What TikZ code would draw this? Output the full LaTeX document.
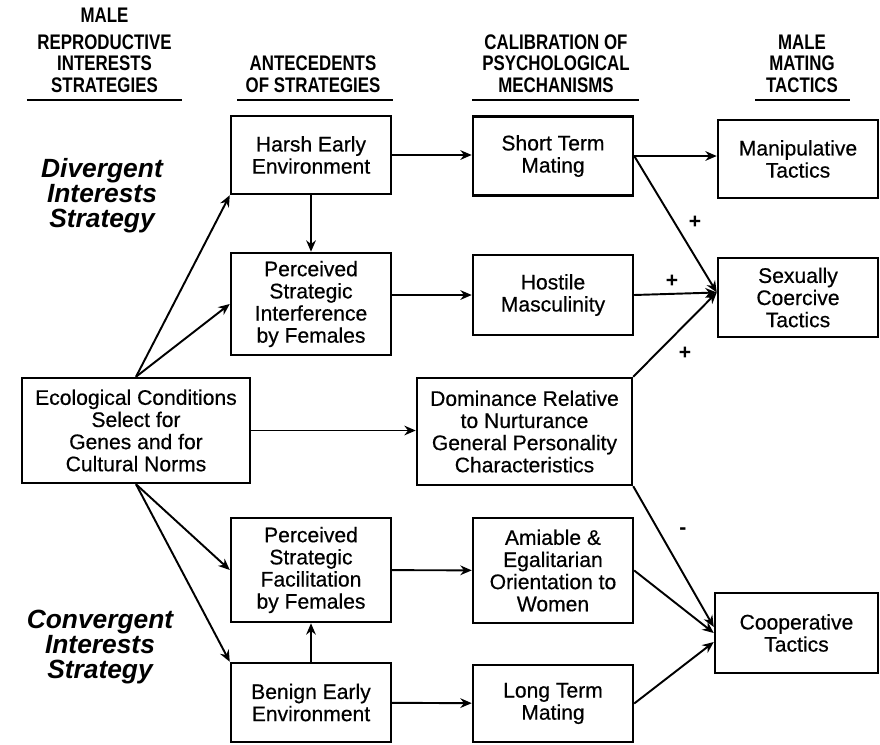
\documentclass[tikz,border=0pt]{standalone}
\usepackage{fontspec}
\setmainfont{Liberation Sans}
\newfontfamily\hdrfont{Liberation Sans}[FakeStretch=0.8]
\newfontfamily\boxfont{Liberation Sans}[FakeBold=0.5]
\usetikzlibrary{arrows.meta}
\begin{document}
\begin{tikzpicture}[
    box/.style={draw, line width=1.4pt, align=center, inner sep=2pt, minimum width=3.2cm, font=\boxfont\fontsize{12}{12.6}\selectfont},
    hdr/.style={align=center, inner sep=0pt, anchor=south, font=\hdrfont\bfseries\fontsize{12}{12.3}\selectfont},
    strat/.style={align=center, font=\bfseries\itshape\fontsize{15}{14.3}\selectfont},
    sgn/.style={inner sep=0pt, font=\bfseries\fontsize{12}{12}\selectfont},
    arr/.style={-{Stealth[length=6.5pt,width=5.5pt]}, line width=1.1pt}]
    \useasboundingbox (0,0) rectangle (17.6,14.88);
    % column headings
    \node[hdr] (h1) at (2.09,13.02) {MALE\\[3pt]REPRODUCTIVE\\INTERESTS\\STRATEGIES};
    \node[hdr] (h2) at (6.26,13.02) {ANTECEDENTS\\OF STRATEGIES};
    \node[hdr] (h3) at (11.12,13.02) {CALIBRATION OF\\PSYCHOLOGICAL\\MECHANISMS};
    \node[hdr] (h4) at (16.04,13.02) {MALE\\MATING\\TACTICS};
    \foreach \a/\b in {0.54/3.64, 4.74/7.86, 9.44/12.78, 15.1/17.0}
        \draw[line width=1.5pt] (\a,12.88) -- (\b,12.88);
    \node[strat] (div) at (2.04,10.96) {Divergent\\Interests\\Strategy};
    \node[strat] (conv) at (2.0,1.94) {Convergent\\Interests\\Strategy};
    % boxes
    \node[box, minimum width=4.56cm, minimum height=2.1cm] (ecol) at (2.72,6.27) {Ecological Conditions\\Select for\\Genes and for\\Cultural Norms};
    \node[box, minimum height=1.56cm] (harsh) at (6.22,11.78) {Harsh Early\\Environment};
    \node[box, minimum height=2.04cm] (interf) at (6.22,8.80) {Perceived\\Strategic\\Interference\\by Females};
    \node[box, minimum height=2.08cm] (facil) at (6.22,3.48) {Perceived\\Strategic\\Facilitation\\by Females};
    \node[box, minimum height=1.58cm] (benign) at (6.22,0.83) {Benign Early\\Environment};
    \node[box, minimum height=1.58cm] (short) at (11.06,11.76) {Short Term\\Mating};
    \node[box, minimum height=1.6cm] (hostile) at (11.06,8.98) {Hostile\\Masculinity};
    \node[box, minimum width=4.3cm, minimum height=2.14cm] (dom) at (10.49,6.25) {Dominance Relative\\to Nurturance\\General Personality\\Characteristics};
    \node[box, minimum height=2.1cm] (amiable) at (11.06,3.47) {Amiable \&\\Egalitarian\\Orientation to\\Women};
    \node[box, minimum height=1.54cm] (long) at (11.06,0.81) {Long Term\\Mating};
    \node[box, minimum height=1.56cm] (manip) at (15.96,11.70) {Manipulative\\Tactics};
    \node[box, minimum height=1.58cm] (coerc) at (15.96,8.93) {Sexually\\Coercive\\Tactics};
    \node[box, minimum width=3.26cm, minimum height=1.6cm] (coop) at (15.93,2.22) {Cooperative\\Tactics};
    % arrows
    \draw[arr] (ecol.north) -- (harsh.south west);
    \draw[arr] (ecol.north) -- (interf.west);
    \draw[arr] (ecol.south) -- (facil.west);
    \draw[arr] (ecol.south) -- (benign.north west);
    \draw[arr] (ecol.east) -- (ecol.east -| dom.west);
    \draw[arr] (harsh) -- (interf);
    \draw[arr] (benign) -- (facil);
    \draw[arr] (harsh.east) -- (harsh.east -| short.west);
    \draw[arr] (interf.east |- hostile.west) -- (hostile.west);
    \draw[arr] (facil) -- (amiable);
    \draw[arr] (benign) -- (long);
    \draw[arr] (short.east) -- (short.east -| manip.west);
    \draw[arr] (short.east) -- ([yshift=1mm]coerc.west);
    \draw[arr] (hostile.east) -- ([yshift=1mm]coerc.west);
    \draw[arr] (dom.north east) -- ([yshift=1mm]coerc.west);
    \draw[arr] (dom.south east) -- ([yshift=1.2mm]coop.west);
    \draw[arr] (amiable.east) -- (coop.west);
    \draw[arr] (long.east) -- ([yshift=-1.8mm]coop.west);
    % signs
    \node[sgn] (p1) at (13.9,10.44) {+};
    \node[sgn] (p2) at (13.44,9.26) {+};
    \node[sgn] (p3) at (13.7,7.82) {+};
    \node[sgn] (m1) at (13.66,4.26) {-};
\end{tikzpicture}
\end{document}
